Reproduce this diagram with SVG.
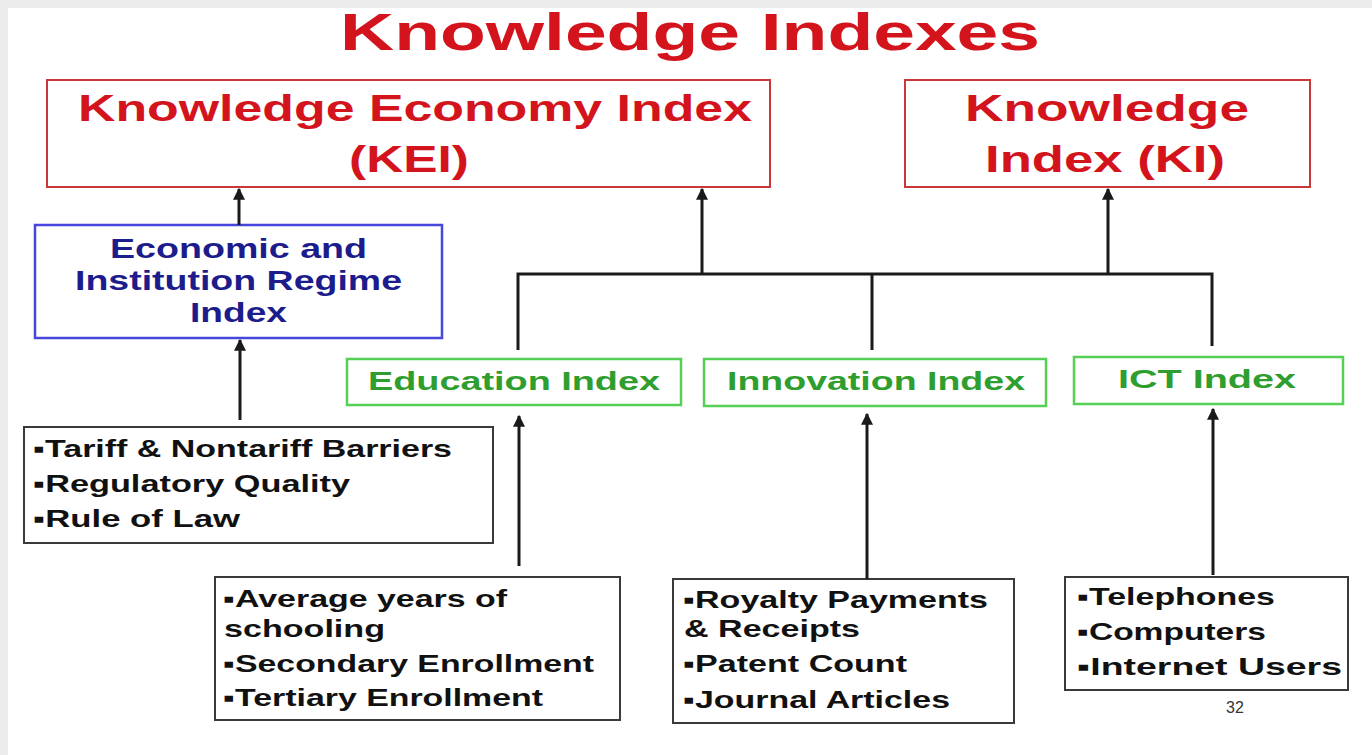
<svg xmlns="http://www.w3.org/2000/svg" width="1372" height="755" viewBox="0 0 1372 755">
<style>
text{font-family:"Liberation Sans",Arial,sans-serif;font-weight:bold}
.red{fill:#d4141c}
.blue{fill:#1c1c8c}
.green{fill:#2e9e2e}
.blk{fill:#111}
.rbox{fill:#fff;stroke:#c83838;stroke-width:2}
.bbox{fill:#fff;stroke:#4646dc;stroke-width:2.5}
.gbox{fill:#fff;stroke:#55d055;stroke-width:2.5}
.kbox{fill:#fff;stroke:#3a3a3a;stroke-width:2}
.ln{stroke:#1a1a1a;stroke-width:3;fill:none}
</style>
<defs>
<marker id="ah" viewBox="0 0 10 10" refX="9" refY="5" markerWidth="4" markerHeight="4" orient="auto" markerUnits="strokeWidth">
<path d="M0,0 L10,5 L0,10 z" fill="#1a1a1a"/>
</marker>
</defs>
<rect x="0" y="0" width="1372" height="755" fill="#ececec"/>
<rect x="8" y="8" width="1364" height="747" fill="#fff"/>
<text x="340" y="50" font-size="52" class="red" textLength="700" lengthAdjust="spacingAndGlyphs">Knowledge Indexes</text>

<g id="kei">
<rect class="rbox" x="47" y="80" width="723" height="107"/>
<text x="78" y="121" font-size="37" class="red" textLength="674" lengthAdjust="spacingAndGlyphs">Knowledge Economy Index</text>
<text x="349" y="172" font-size="37" class="red" textLength="120" lengthAdjust="spacingAndGlyphs">(KEI)</text>
</g>
<g id="ki">
<rect class="rbox" x="905" y="80" width="405" height="107"/>
<text x="965" y="121" font-size="37" class="red" textLength="284" lengthAdjust="spacingAndGlyphs">Knowledge</text>
<text x="985" y="172" font-size="37" class="red" textLength="240" lengthAdjust="spacingAndGlyphs">Index (KI)</text>
</g>
<g id="eiri">
<rect class="bbox" x="35" y="225" width="407" height="113"/>
<text x="110" y="258" font-size="27" class="blue" textLength="257" lengthAdjust="spacingAndGlyphs">Economic and</text>
<text x="75" y="290" font-size="27" class="blue" textLength="327" lengthAdjust="spacingAndGlyphs">Institution Regime</text>
<text x="190" y="322" font-size="27" class="blue" textLength="97" lengthAdjust="spacingAndGlyphs">Index</text>
</g>
<g id="edu">
<rect class="gbox" x="347" y="359" width="334" height="46"/>
<text x="368" y="390" font-size="25" class="green" textLength="292" lengthAdjust="spacingAndGlyphs">Education Index</text>
</g>
<g id="inn">
<rect class="gbox" x="704" y="359" width="342" height="47"/>
<text x="727" y="390" font-size="25" class="green" textLength="298" lengthAdjust="spacingAndGlyphs">Innovation Index</text>
</g>
<g id="ict">
<rect class="gbox" x="1074" y="357" width="269" height="47"/>
<text x="1118" y="388" font-size="25" class="green" textLength="178" lengthAdjust="spacingAndGlyphs">ICT Index</text>
</g>
<g id="eiri-src">
<rect class="kbox" x="24" y="427" width="469" height="116"/>
<text x="33" y="457" font-size="24" class="blk" textLength="419" lengthAdjust="spacingAndGlyphs">▪Tariff &amp; Nontariff Barriers</text>
<text x="33" y="492" font-size="24" class="blk" textLength="317" lengthAdjust="spacingAndGlyphs">▪Regulatory Quality</text>
<text x="33" y="527" font-size="24" class="blk" textLength="207" lengthAdjust="spacingAndGlyphs">▪Rule of Law</text>
</g>
<g id="edu-src">
<rect class="kbox" x="215" y="577" width="405" height="143"/>
<text x="223" y="607" font-size="24" class="blk" textLength="284" lengthAdjust="spacingAndGlyphs">▪Average years of</text>
<text x="224" y="637" font-size="24" class="blk" textLength="161" lengthAdjust="spacingAndGlyphs">schooling</text>
<text x="223" y="672" font-size="24" class="blk" textLength="371" lengthAdjust="spacingAndGlyphs">▪Secondary Enrollment</text>
<text x="223" y="706" font-size="24" class="blk" textLength="320" lengthAdjust="spacingAndGlyphs">▪Tertiary Enrollment</text>
</g>
<g id="inn-src">
<rect class="kbox" x="673" y="579" width="341" height="144"/>
<text x="683" y="608" font-size="24" class="blk" textLength="305" lengthAdjust="spacingAndGlyphs">▪Royalty Payments</text>
<text x="684" y="637" font-size="24" class="blk" textLength="176" lengthAdjust="spacingAndGlyphs">&amp; Receipts</text>
<text x="683" y="672" font-size="24" class="blk" textLength="224" lengthAdjust="spacingAndGlyphs">▪Patent Count</text>
<text x="683" y="708" font-size="24" class="blk" textLength="267" lengthAdjust="spacingAndGlyphs">▪Journal Articles</text>
</g>
<g id="ict-src">
<rect class="kbox" x="1065" y="577" width="283" height="113"/>
<text x="1077" y="605" font-size="24" class="blk" textLength="198" lengthAdjust="spacingAndGlyphs">▪Telephones</text>
<text x="1077" y="640" font-size="24" class="blk" textLength="189" lengthAdjust="spacingAndGlyphs">▪Computers</text>
<text x="1077" y="675" font-size="24" class="blk" textLength="265" lengthAdjust="spacingAndGlyphs">▪Internet Users</text>
</g>
<text x="1235" y="713" font-size="16" font-weight="normal" style="font-weight:normal" fill="#333" text-anchor="middle">32</text>

<g id="connectors">
<line class="ln" x1="239" y1="225" x2="239" y2="189" marker-end="url(#ah)"/>
<line class="ln" x1="240" y1="420" x2="240" y2="340" marker-end="url(#ah)"/>
<line class="ln" x1="702" y1="274" x2="702" y2="189" marker-end="url(#ah)"/>
<line class="ln" x1="1108" y1="274" x2="1108" y2="189" marker-end="url(#ah)"/>
<path class="ln" d="M518,350 V274 H1212 V346 M872,274 V350" stroke-width="2.5"/>
<line class="ln" x1="519" y1="566" x2="519" y2="416" marker-end="url(#ah)"/>
<line class="ln" x1="867" y1="579" x2="867" y2="414" marker-end="url(#ah)"/>
<line class="ln" x1="1213" y1="575" x2="1213" y2="409" marker-end="url(#ah)"/>
</g>
</svg>
